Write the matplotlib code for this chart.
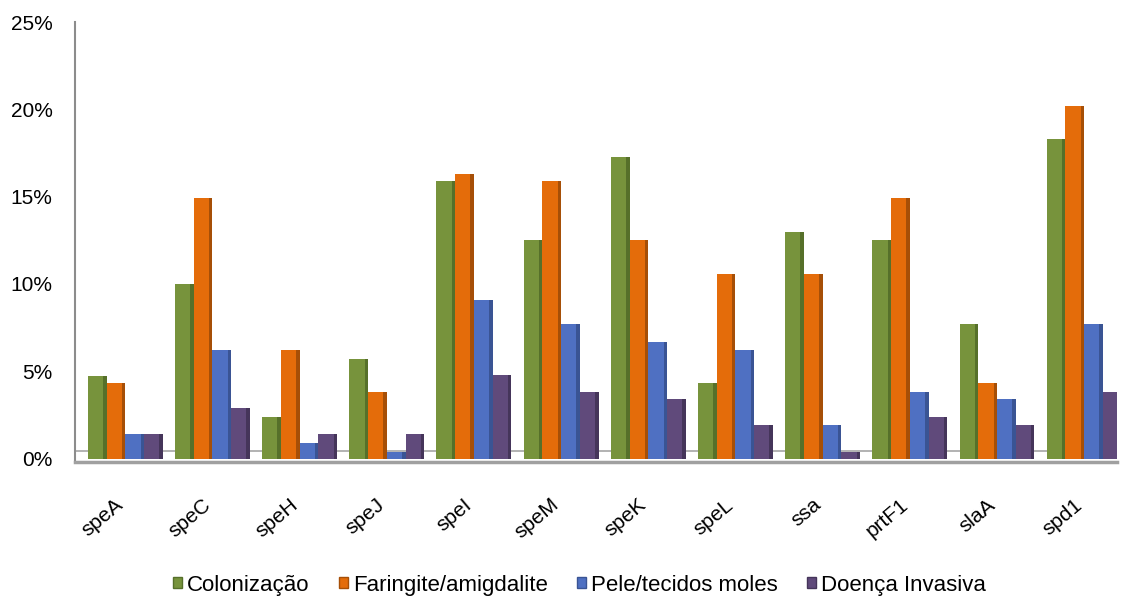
import matplotlib
matplotlib.use("Agg")
import matplotlib.pyplot as plt
import numpy as np
from matplotlib.patches import Patch
from matplotlib.ticker import PercentFormatter

plt.rcParams['font.family'] = ['Liberation Sans', 'DejaVu Sans']

# genes
genes = ['speA', 'speC', 'speH', 'speJ', 'speI', 'speM', 'speK', 'speL', 'ssa', 'prtF1', 'slaA', 'spd1']

# % por apresentação clínica
colonizacao = [4.7, 10.0, 2.4, 5.7, 15.9, 12.5, 17.3, 4.3, 13.0, 12.5, 7.7, 18.3]
faringite = [4.3, 14.9, 6.2, 3.8, 16.3, 15.9, 12.5, 10.6, 10.6, 14.9, 4.3, 20.2]
pele = [1.4, 6.2, 0.9, 0.4, 9.1, 7.7, 6.7, 6.2, 1.9, 3.8, 3.4, 7.7]
invasiva = [1.4, 2.9, 1.4, 1.4, 4.8, 3.8, 3.4, 1.9, 0.4, 2.4, 1.9, 3.8]

series = [colonizacao, faringite, pele, invasiva]
labels = ['Colonização', 'Faringite/amigdalite', 'Pele/tecidos moles', 'Doença Invasiva']
colors = ['#77933C', '#E46C0A', '#4F70C2', '#604A7B']
sides = ['#56702A', '#A64F07', '#3A5494', '#45355A']

fig, ax = plt.subplots(figsize=(11.32, 6), dpi=100)
fig.subplots_adjust(left=0.066, right=0.987, top=0.963, bottom=0.23)

x = np.arange(len(genes))
w = 0.215
offs = (np.arange(4) - 1.5) * w

# linha de fundo do "chão" 3D
ax.axhline(0.45, color='#A6A6A6', lw=1.2, zorder=0)

for vals, off, c, sc in zip(series, offs, colors, sides):
    ax.bar(x + off, vals, width=w, color=c, zorder=2, linewidth=0)
    # face lateral mais escura (efeito 3D)
    ax.bar(x + off + w / 2 - 0.02, vals, width=0.04, color=sc, zorder=3, linewidth=0)

ax.set_ylim(-0.2, 25)
ax.set_xlim(-0.58, 11.38)
ax.set_yticks(np.arange(0, 26, 5))
ax.yaxis.set_major_formatter(PercentFormatter(decimals=0))
ax.tick_params(axis='y', length=0, pad=16, labelsize=15)

ax.set_xticks(x - 0.05)
ax.set_xticklabels(genes, rotation=40, ha='right', va='center', rotation_mode='anchor',
                   fontsize=15)
ax.tick_params(axis='x', length=0, pad=29)

for s in ['top', 'right']:
    ax.spines[s].set_visible(False)
ax.spines['left'].set_color('#8C8C8C')
ax.spines['left'].set_linewidth(1.5)
ax.spines['bottom'].set_color('#A0A0A0')
ax.spines['bottom'].set_linewidth(2.5)

handles = [Patch(facecolor=c, edgecolor=sc) for c, sc in zip(colors, sides)]
fig.legend(handles, labels, loc='lower center', bbox_to_anchor=(0.512, -0.026), ncol=4,
           frameon=False, fontsize=16, handlelength=0.4, handleheight=0.4,
           handletextpad=0.25, columnspacing=1.3)

plt.savefig('out.png', dpi=100)
